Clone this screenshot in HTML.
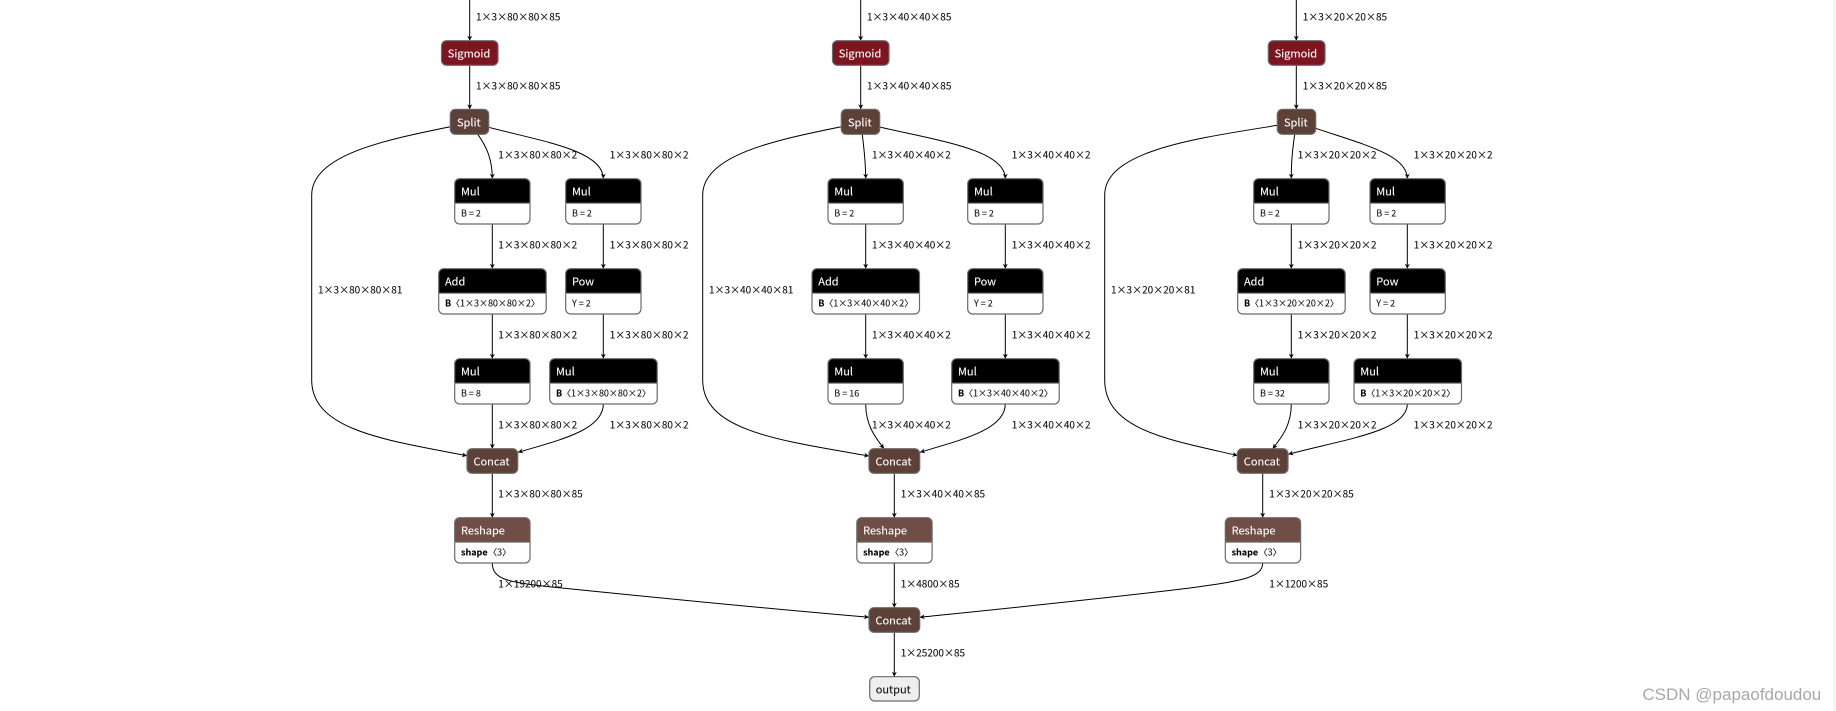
<!DOCTYPE html>
<html><head><meta charset="utf-8"><style>
html,body{margin:0;padding:0;background:#fff;width:1836px;height:711px;overflow:hidden}
svg{display:block;position:absolute;left:0;top:0}
text{font-family:"Liberation Sans","Noto Sans CJK SC",sans-serif}
.e,.t,.a,.b{font-family:"Noto Sans CJK SC","Liberation Sans",sans-serif}
.e{font-size:10px;fill:#111;stroke:#111;stroke-width:.12}
.t{font-size:11px;fill:#fff;stroke:#fff;stroke-width:.1}
.a{font-size:9px;fill:#111;stroke:#111;stroke-width:.1}
.b{font-weight:700;fill:#000}
.l path{fill:none;stroke:#000;stroke-width:1;marker-end:url(#ar)}
#wm{position:absolute;left:1642.4px;top:684.6px;font:17px "Liberation Sans",sans-serif;color:#a8a8a8;white-space:nowrap}
#st{position:absolute;left:1833px;top:0;width:3px;height:711px;background:#f5f5f5}
</style></head><body>
<svg width="1836" height="711" viewBox="0 0 1836 711" xmlns="http://www.w3.org/2000/svg">
<defs>
<marker id="ar" viewBox="0 0 10 10" refX="10" refY="5" markerWidth="5" markerHeight="5" markerUnits="userSpaceOnUse" orient="auto"><path d="M0 0L10 5L0 10L3 5z" fill="#000"/></marker>
<g id="n75"><rect width="75.3" height="45.3" rx="5" fill="#fff"/><path d="M0 24.5V5a5 5 0 0 1 5-5H70.3a5 5 0 0 1 5 5V24.5Z" fill="currentColor"/><rect width="75.3" height="45.3" rx="5" fill="none" stroke="#6a6a6a" stroke-width="1.2"/><path d="M0 24.5H75.3" stroke="#777"/></g>
<g id="n107"><rect width="107.5" height="45.3" rx="5" fill="#fff"/><path d="M0 24.5V5a5 5 0 0 1 5-5H102.5a5 5 0 0 1 5 5V24.5Z" fill="currentColor"/><rect width="107.5" height="45.3" rx="5" fill="none" stroke="#6a6a6a" stroke-width="1.2"/><path d="M0 24.5H107.5" stroke="#777"/></g>
</defs>
<g class="l">
<path d="M469.7 0V40.7"/><path d="M469.7 65.3V109.3"/>
<path d="M450.3 126.7C385 140 311.7 155 311.7 195V380C311.7 430 385 440 467 455.7"/>
<path d="M477.7 134.3C487 147 492.3 160 492.3 178.7"/>
<path d="M488.7 127.3C540 141 603.3 150 603.3 178.7"/>
<path d="M492.3 224V268.7"/><path d="M492.3 314V358.7"/><path d="M492.3 404V448.7"/>
<path d="M603.3 224V268.7"/><path d="M603.3 314V358.7"/>
<path d="M603.3 404C603.3 430 560 440 518 452.3"/>
<path d="M492.3 473.3V517.7"/>
<path d="M492.3 563C492.3 580 510 582 547 586.5C650 597 760 608 869 617.3"/>

<path d="M860.7 0V40.7"/><path d="M860.7 65.3V109.3"/>
<path d="M841.3 126.7C776 140 702.7 155 702.7 195V380C702.7 430 776 440 869 456"/>
<path d="M862.3 134.3C864 150 865.7 160 865.7 178.7"/>
<path d="M879.7 127C940 141 1005.3 150 1005.3 178.7"/>
<path d="M865.7 224V268.7"/><path d="M865.7 314V358.7"/>
<path d="M865.7 404C865.7 425 875 437 884 448.7"/>
<path d="M1005.3 224V268.7"/><path d="M1005.3 314V358.7"/>
<path d="M1005.3 404C1005.3 430 960 440 920 452.3"/>
<path d="M894.3 473.3V517.7"/><path d="M894.3 563V607.7"/><path d="M894.3 632.3V676.7"/>

<path d="M1296.3 0V40.7"/><path d="M1296.3 65.3V109.3"/>
<path d="M1277.3 125.3C1200 138 1104.7 150 1104.7 195V380C1104.7 430 1170 440 1237.5 455.5"/>
<path d="M1294.7 134.3C1292.5 150 1291.3 160 1291.3 178.7"/>
<path d="M1315.7 128.3C1365 145 1407.3 155 1407.3 178.7"/>
<path d="M1291.3 224V268.7"/><path d="M1291.3 314V358.7"/>
<path d="M1291.3 404C1291.3 425 1282 437 1272.7 448.7"/>
<path d="M1407.3 224V268.7"/><path d="M1407.3 314V358.7"/>
<path d="M1407.3 404C1407.3 432 1340 440 1288.3 454.3"/>
<path d="M1262.7 473.3V517.7"/>
<path d="M1262.7 563C1262.7 578 1240 581 1190 588C1100 599 1010 608 919.7 617.3"/>
</g>

<g stroke-width="1.2">
<rect x="441.5" y="40.7" width="56.5" height="24.6" rx="5" fill="#7d1520" stroke="#6a6a6a"/><text class="t" x="447.8" y="57.5">Sigmoid</text>
<rect x="450.3" y="109.3" width="38.4" height="25" rx="5" fill="#5d4037" stroke="#6a6a6a"/><text class="t" x="457" y="126.5">Split</text>
<rect x="467" y="448.7" width="50.7" height="24.6" rx="5" fill="#5d4037" stroke="#6a6a6a"/><text class="t" x="473.5" y="465.5">Concat</text>

<rect x="832.5" y="40.7" width="56.5" height="24.6" rx="5" fill="#7d1520" stroke="#6a6a6a"/><text class="t" x="838.8" y="57.5">Sigmoid</text>
<rect x="841.3" y="109.3" width="38.4" height="25" rx="5" fill="#5d4037" stroke="#6a6a6a"/><text class="t" x="848" y="126.5">Split</text>
<rect x="869" y="448.7" width="50.7" height="24.6" rx="5" fill="#5d4037" stroke="#6a6a6a"/><text class="t" x="875.5" y="465.5">Concat</text>
<rect x="869" y="607.7" width="50.7" height="24.6" rx="5" fill="#5d4037" stroke="#6a6a6a"/><text class="t" x="875.5" y="624.5">Concat</text>
<rect x="869.7" y="676.7" width="49.6" height="24.3" rx="5" fill="#eee" stroke="#6a6a6a"/><text class="t" x="875.7" y="693.5" style="fill:#111;stroke:#111">output</text>

<rect x="1268.3" y="40.7" width="56.7" height="24.6" rx="5" fill="#7d1520" stroke="#6a6a6a"/><text class="t" x="1274.6" y="57.5">Sigmoid</text>
<rect x="1277.3" y="109.3" width="38.4" height="25" rx="5" fill="#5d4037" stroke="#6a6a6a"/><text class="t" x="1284" y="126.5">Split</text>
<rect x="1237.3" y="448.7" width="50.7" height="24.6" rx="5" fill="#5d4037" stroke="#6a6a6a"/><text class="t" x="1243.8" y="465.5">Concat</text>

<g transform="translate(454.7,178.7)" color="#000"><use href="#n75"/><text class="t" x="6.3" y="16.8">Mul</text><text class="a" x="6.3" y="37.8">B = 2</text></g>
<g transform="translate(565.7,178.7)" color="#000"><use href="#n75"/><text class="t" x="6.3" y="16.8">Mul</text><text class="a" x="6.3" y="37.8">B = 2</text></g>
<g transform="translate(438.7,268.7)" color="#000"><use href="#n107"/><text class="t" x="6.3" y="16.8">Add</text><text class="a" x="6.3" y="37.8"><tspan class="b">B</tspan><tspan dx="-2.2"> 〈1×3×80×80×2〉</tspan></text></g>
<g transform="translate(565.7,268.7)" color="#000"><use href="#n75"/><text class="t" x="6.3" y="16.8">Pow</text><text class="a" x="6.3" y="37.8">Y = 2</text></g>
<g transform="translate(454.7,358.7)" color="#000"><use href="#n75"/><text class="t" x="6.3" y="16.8">Mul</text><text class="a" x="6.3" y="37.8">B = 8</text></g>
<g transform="translate(549.7,358.7)" color="#000"><use href="#n107"/><text class="t" x="6.3" y="16.8">Mul</text><text class="a" x="6.3" y="37.8"><tspan class="b">B</tspan><tspan dx="-2.2"> 〈1×3×80×80×2〉</tspan></text></g>
<g transform="translate(454.7,517.7)" color="#704d45"><use href="#n75"/><text class="t" x="6.3" y="16.8">Reshape</text><text class="a" x="6.3" y="37.8"><tspan class="b">shape</tspan><tspan dx="-1.5"> 〈3〉</tspan></text></g>

<g transform="translate(828,178.7)" color="#000"><use href="#n75"/><text class="t" x="6.3" y="16.8">Mul</text><text class="a" x="6.3" y="37.8">B = 2</text></g>
<g transform="translate(967.7,178.7)" color="#000"><use href="#n75"/><text class="t" x="6.3" y="16.8">Mul</text><text class="a" x="6.3" y="37.8">B = 2</text></g>
<g transform="translate(812,268.7)" color="#000"><use href="#n107"/><text class="t" x="6.3" y="16.8">Add</text><text class="a" x="6.3" y="37.8"><tspan class="b">B</tspan><tspan dx="-2.2"> 〈1×3×40×40×2〉</tspan></text></g>
<g transform="translate(967.7,268.7)" color="#000"><use href="#n75"/><text class="t" x="6.3" y="16.8">Pow</text><text class="a" x="6.3" y="37.8">Y = 2</text></g>
<g transform="translate(828,358.7)" color="#000"><use href="#n75"/><text class="t" x="6.3" y="16.8">Mul</text><text class="a" x="6.3" y="37.8">B = 16</text></g>
<g transform="translate(951.7,358.7)" color="#000"><use href="#n107"/><text class="t" x="6.3" y="16.8">Mul</text><text class="a" x="6.3" y="37.8"><tspan class="b">B</tspan><tspan dx="-2.2"> 〈1×3×40×40×2〉</tspan></text></g>
<g transform="translate(856.8,517.7)" color="#704d45"><use href="#n75"/><text class="t" x="6.3" y="16.8">Reshape</text><text class="a" x="6.3" y="37.8"><tspan class="b">shape</tspan><tspan dx="-1.5"> 〈3〉</tspan></text></g>

<g transform="translate(1253.7,178.7)" color="#000"><use href="#n75"/><text class="t" x="6.3" y="16.8">Mul</text><text class="a" x="6.3" y="37.8">B = 2</text></g>
<g transform="translate(1370,178.7)" color="#000"><use href="#n75"/><text class="t" x="6.3" y="16.8">Mul</text><text class="a" x="6.3" y="37.8">B = 2</text></g>
<g transform="translate(1237.7,268.7)" color="#000"><use href="#n107"/><text class="t" x="6.3" y="16.8">Add</text><text class="a" x="6.3" y="37.8"><tspan class="b">B</tspan><tspan dx="-2.2"> 〈1×3×20×20×2〉</tspan></text></g>
<g transform="translate(1370,268.7)" color="#000"><use href="#n75"/><text class="t" x="6.3" y="16.8">Pow</text><text class="a" x="6.3" y="37.8">Y = 2</text></g>
<g transform="translate(1253.7,358.7)" color="#000"><use href="#n75"/><text class="t" x="6.3" y="16.8">Mul</text><text class="a" x="6.3" y="37.8">B = 32</text></g>
<g transform="translate(1354,358.7)" color="#000"><use href="#n107"/><text class="t" x="6.3" y="16.8">Mul</text><text class="a" x="6.3" y="37.8"><tspan class="b">B</tspan><tspan dx="-2.2"> 〈1×3×20×20×2〉</tspan></text></g>
<g transform="translate(1225.3,517.7)" color="#704d45"><use href="#n75"/><text class="t" x="6.3" y="16.8">Reshape</text><text class="a" x="6.3" y="37.8"><tspan class="b">shape</tspan><tspan dx="-1.5"> 〈3〉</tspan></text></g>
</g>

<g>
<text class="e" x="476" y="20.4">1×3×80×80×85</text>
<text class="e" x="476" y="89.7">1×3×80×80×85</text>
<text class="e" x="498.3" y="158.7">1×3×80×80×2</text>
<text class="e" x="609.7" y="158.7">1×3×80×80×2</text>
<text class="e" x="318" y="293.7">1×3×80×80×81</text>
<text class="e" x="498.3" y="248.7">1×3×80×80×2</text>
<text class="e" x="609.7" y="248.7">1×3×80×80×2</text>
<text class="e" x="498.3" y="338.7">1×3×80×80×2</text>
<text class="e" x="609.7" y="338.7">1×3×80×80×2</text>
<text class="e" x="498.3" y="428.7">1×3×80×80×2</text>
<text class="e" x="609.7" y="428.7">1×3×80×80×2</text>
<text class="e" x="498.3" y="497.7">1×3×80×80×85</text>
<text class="e" x="498.3" y="587.7">1×19200×85</text>

<text class="e" x="867" y="20.4">1×3×40×40×85</text>
<text class="e" x="867" y="89.7">1×3×40×40×85</text>
<text class="e" x="872" y="158.7">1×3×40×40×2</text>
<text class="e" x="1011.7" y="158.7">1×3×40×40×2</text>
<text class="e" x="709" y="293.7">1×3×40×40×81</text>
<text class="e" x="872" y="248.7">1×3×40×40×2</text>
<text class="e" x="1011.7" y="248.7">1×3×40×40×2</text>
<text class="e" x="872" y="338.7">1×3×40×40×2</text>
<text class="e" x="1011.7" y="338.7">1×3×40×40×2</text>
<text class="e" x="872" y="428.7">1×3×40×40×2</text>
<text class="e" x="1011.7" y="428.7">1×3×40×40×2</text>
<text class="e" x="900.7" y="497.7">1×3×40×40×85</text>
<text class="e" x="900.7" y="587.7">1×4800×85</text>
<text class="e" x="900.7" y="656.7">1×25200×85</text>

<text class="e" x="1302.7" y="20.4">1×3×20×20×85</text>
<text class="e" x="1302.7" y="89.7">1×3×20×20×85</text>
<text class="e" x="1297.7" y="158.7">1×3×20×20×2</text>
<text class="e" x="1413.7" y="158.7">1×3×20×20×2</text>
<text class="e" x="1111" y="293.7">1×3×20×20×81</text>
<text class="e" x="1297.7" y="248.7">1×3×20×20×2</text>
<text class="e" x="1413.7" y="248.7">1×3×20×20×2</text>
<text class="e" x="1297.7" y="338.7">1×3×20×20×2</text>
<text class="e" x="1413.7" y="338.7">1×3×20×20×2</text>
<text class="e" x="1297.7" y="428.7">1×3×20×20×2</text>
<text class="e" x="1413.7" y="428.7">1×3×20×20×2</text>
<text class="e" x="1269.3" y="497.7">1×3×20×20×85</text>
<text class="e" x="1269.3" y="587.7">1×1200×85</text>
</g>
</svg>
<div id="wm">CSDN @papaofdoudou</div>
<div id="st"></div>
</body></html>
